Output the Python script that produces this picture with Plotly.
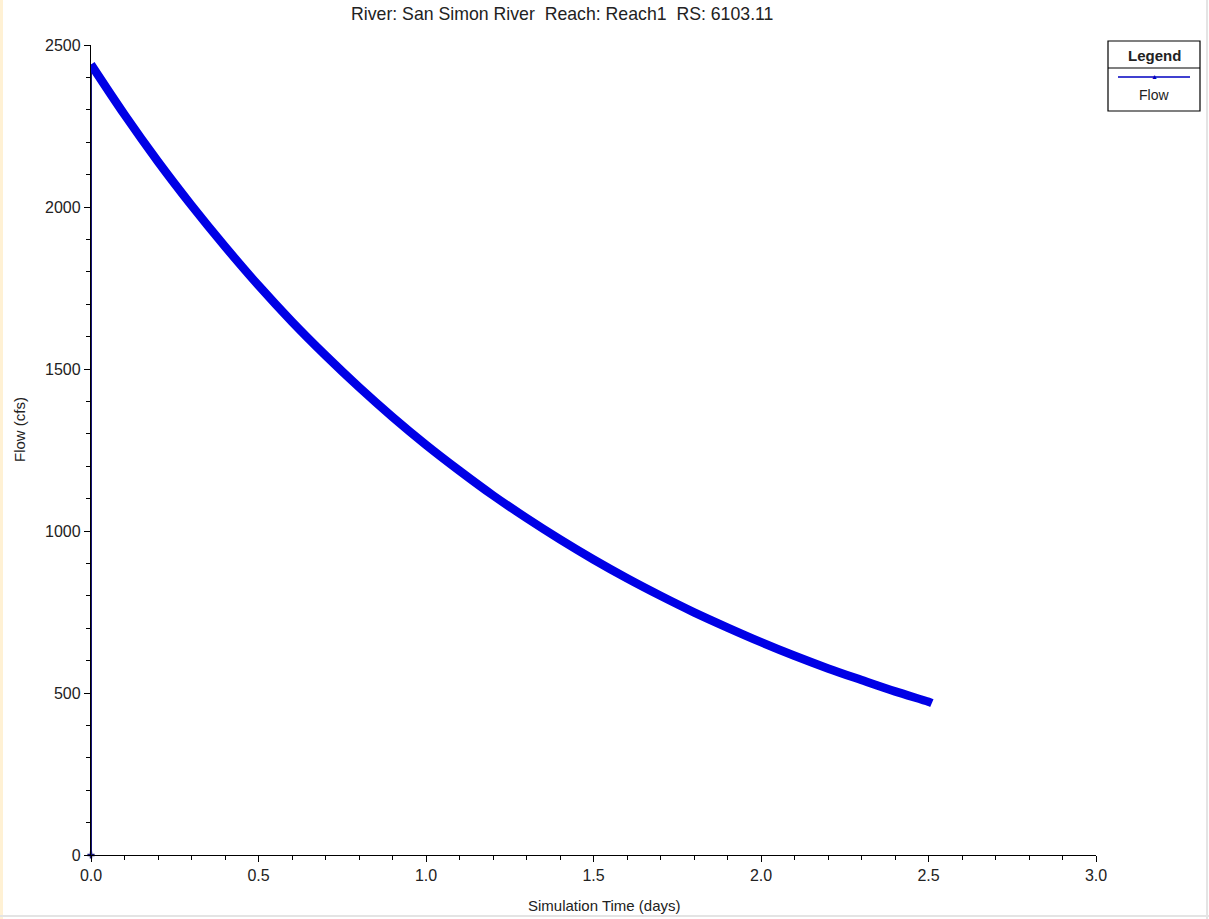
import plotly.graph_objects as go

# Data
time_days = [0.00, 0.10, 0.20, 0.30, 0.40, 0.50, 0.60, 0.70, 0.80, 0.90,
             1.00, 1.10, 1.20, 1.30, 1.40, 1.50, 1.60, 1.70, 1.80, 1.90,
             2.00, 2.10, 2.20, 2.30, 2.40, 2.50, 2.51]
flow_cfs = [2440, 2285, 2140, 2005, 1878, 1758, 1646, 1542, 1444, 1352,
            1266, 1186, 1110, 1040, 974, 912, 854, 800, 749, 702,
            657, 615, 576, 540, 505, 473, 469]
start_time = [0.0, 0.0, 0.0]
start_flow = [0, 1220, 2440]

title_text = "River: San Simon River  Reach: Reach1  RS: 6103.11"
x_title = "Simulation Time (days)"
y_title = "Flow (cfs)"
legend_title = "Legend"
series_name = "Flow"

W, H = 1209, 919
L, R, T, B = 91, 1096, 45, 855
pw, ph = R - L, B - T


def px(x):
    return (x - L) / pw


def py(y):
    return (B - y) / ph


FONT = "Liberation Sans, Arial, sans-serif"

fig = go.Figure()
fig.add_trace(go.Scatter(x=start_time, y=start_flow, mode="lines",
                         line=dict(color="#14147a", width=2),
                         showlegend=False, cliponaxis=False))
fig.add_trace(go.Scatter(x=time_days, y=flow_cfs, mode="lines",
                         line=dict(color="#0000e6", width=8.5, shape="spline",
                                   smoothing=1),
                         name=series_name, showlegend=False, cliponaxis=False))
fig.add_trace(go.Scatter(x=[0], y=[0], mode="markers",
                         marker=dict(symbol="cross", size=6, color="#14147a"),
                         showlegend=False, cliponaxis=False))

axis_common = dict(showgrid=False, zeroline=False, showline=True,
                   linecolor="#000000", linewidth=1.3, ticks="outside",
                   ticklen=6, tickwidth=1.2, tickcolor="#000000",
                   tickfont=dict(family=FONT, size=16, color="#222222"),
                   mirror=False)

fig.update_xaxes(range=[0, 3], dtick=0.5, tickformat=".1f",
                 minor=dict(dtick=0.1, ticks="outside", ticklen=4,
                            tickcolor="#000000", tickwidth=1.2),
                 **axis_common)
fig.update_yaxes(range=[0, 2500], dtick=500,
                 minor=dict(dtick=100, ticks="outside", ticklen=4,
                            tickcolor="#000000", tickwidth=1.2),
                 **axis_common)

shapes = [
    # beige left strip
    dict(type="rect", xref="paper", yref="paper", x0=px(0), x1=px(3),
         y0=py(H), y1=py(0), fillcolor="#fff1d4", line=dict(width=0),
         layer="below"),
    # faint frame right and bottom
    dict(type="line", xref="paper", yref="paper", x0=px(1207), x1=px(1207),
         y0=py(H), y1=py(0), line=dict(color="#e4e4e4", width=2)),
    dict(type="line", xref="paper", yref="paper", x0=px(0), x1=px(W),
         y0=py(916), y1=py(916), line=dict(color="#e4e4e4", width=2)),
    # legend box
    dict(type="rect", xref="paper", yref="paper", x0=px(1108), x1=px(1200),
         y0=py(111), y1=py(41), line=dict(color="#000000", width=1.2),
         fillcolor="#ffffff"),
    dict(type="line", xref="paper", yref="paper", x0=px(1108), x1=px(1200),
         y0=py(68), y1=py(68), line=dict(color="#000000", width=1.2)),
    dict(type="line", xref="paper", yref="paper", x0=px(1118), x1=px(1190),
         y0=py(77), y1=py(77), line=dict(color="#0000c0", width=1.5)),
]

annotations = [
    dict(text=title_text, xref="paper", yref="paper", x=px(562), y=py(14),
         showarrow=False, xanchor="center", yanchor="middle",
         font=dict(family=FONT, size=17.7, color="#222222")),
    dict(text=x_title, xref="paper", yref="paper", x=px(604), y=py(905),
         showarrow=False, xanchor="center", yanchor="middle",
         font=dict(family=FONT, size=15, color="#222222")),
    dict(text=y_title, xref="paper", yref="paper", x=px(19), y=py(430),
         showarrow=False, xanchor="center", yanchor="middle", textangle=-90,
         font=dict(family=FONT, size=15, color="#222222")),
    dict(text="<b>" + legend_title + "</b>", xref="paper", yref="paper",
         x=px(1154), y=py(55), showarrow=False, xanchor="center",
         yanchor="middle", font=dict(family=FONT, size=15, color="#222222")),
    dict(text="▲", xref="paper", yref="paper", x=px(1154), y=py(76),
         showarrow=False, xanchor="center", yanchor="middle",
         font=dict(family=FONT, size=7, color="#0000c0")),
    dict(text=series_name, xref="paper", yref="paper", x=px(1154), y=py(95),
         showarrow=False, xanchor="center", yanchor="middle",
         font=dict(family=FONT, size=14, color="#222222")),
]

fig.update_layout(width=W, height=H,
                  margin=dict(l=L, r=W - R, t=T, b=H - B, pad=0),
                  paper_bgcolor="#ffffff", plot_bgcolor="#ffffff",
                  shapes=shapes, annotations=annotations, showlegend=False)

fig.write_html("out.html", config={"displayModeBar": False},
               post_script="document.body.style.margin='0px';"
                           "document.body.style.overflow='hidden';")
